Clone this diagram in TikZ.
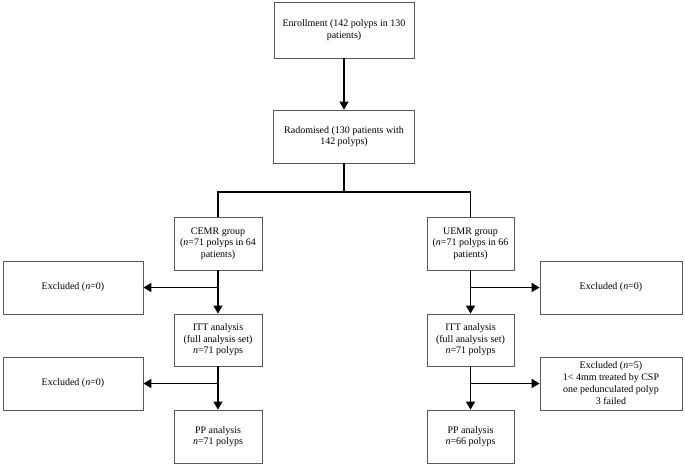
\documentclass[tikz,border=0pt]{standalone}
\usepackage{fontspec}
\setmainfont{Liberation Serif}
\usetikzlibrary{arrows.meta, positioning, calc}
\tikzset{
    trialBox/.style={
        draw=black!65, fill=white, line width=0.8pt, minimum width=88pt, minimum height=53pt, align=center, font=\fontsize{10}{11.5}\selectfont, inner sep=2pt
    },
    trialWideBox/.style={
        trialBox, minimum width=141pt
    },
    trialLine/.style={
        line width=1.3pt, draw=black
    },
    trialArrow/.style={
        trialLine, -{Triangle[length=8pt, width=9pt]}
    }
}
\begin{document}
\begin{tikzpicture}[x=1pt, y=-1pt]
    \useasboundingbox (0,0) rectangle (685,465);

    % ── TOP
    \node[trialWideBox, minimum width=140pt, minimum height=56pt] (enroll) at (344, 30) {Enrollment (142 polyps in 130\\patients)};
    \node[trialWideBox] (random) at (344, 136.5) {Radomised (130 patients with\\142 polyps)};
    \coordinate (split) at (344, 192);

    % ── LEFT ARM
    \node[trialBox] (cemr) at (218, 243.5) {CEMR group\\(\textit{n}=71 polyps in 64\\patients)};
    \node[trialWideBox, minimum width=140pt] (exclCemr) at (73, 287.5) {Excluded (\textit{n}=0)};
    \node[trialBox, minimum height=52pt] (ittCemr) at (218, 340) {ITT analysis\\(full analysis set)\\\textit{n}=71 polyps};
    \node[trialWideBox, minimum width=140pt] (exclItt) at (73, 383.5) {Excluded (\textit{n}=0)};
    \node[trialBox] (ppCemr) at (218, 436.5) {PP analysis\\\textit{n}=71 polyps};

    % ── RIGHT ARM
    \node[trialBox, minimum width=87pt] (uemr) at (470.5, 243.5) {UEMR group\\(\textit{n}=71 polyps in 66\\patients)};
    \node[trialWideBox, minimum width=142pt] (exclUemr) at (611, 287.5) {Excluded (\textit{n}=0)};
    \node[trialBox, minimum width=87pt, minimum height=52pt] (ittUemr) at (470.5, 340) {ITT analysis\\(full analysis set)\\\textit{n}=71 polyps};
    \node[trialWideBox, minimum width=142pt, font=\fontsize{10}{12}\selectfont] (exclPp) at (611, 383.5) {Excluded (\textit{n}=5)\\1< 4mm treated by CSP\\one pedunculated polyp\\3 failed};
    \node[trialBox, minimum width=87pt] (ppUemr) at (470.5, 436.5) {PP analysis\\\textit{n}=66 polyps};

    % ── CONNECTORS & ARROWS
    \draw[trialArrow] (enroll) -- (random);
    \draw[trialLine] (random.south) -- (split);
    \draw[trialLine] (split) -| (cemr.north);
    \draw[trialLine] (split) -| (uemr.north);
    \draw[trialArrow] (cemr) -- (ittCemr);
    \draw[trialArrow] (cemr.south |- exclCemr.east) -- (exclCemr.east);
    \draw[trialArrow] (ittCemr) -- (ppCemr);
    \draw[trialArrow] (ittCemr.south |- exclItt.east) -- (exclItt.east);
    \draw[trialArrow] (uemr) -- (ittUemr);
    \draw[trialArrow] (uemr.south |- exclUemr.west) -- (exclUemr.west);
    \draw[trialArrow] (ittUemr) -- (ppUemr);
    \draw[trialArrow] (ittUemr.south |- exclPp.west) -- (exclPp.west);
\end{tikzpicture}
\end{document}
